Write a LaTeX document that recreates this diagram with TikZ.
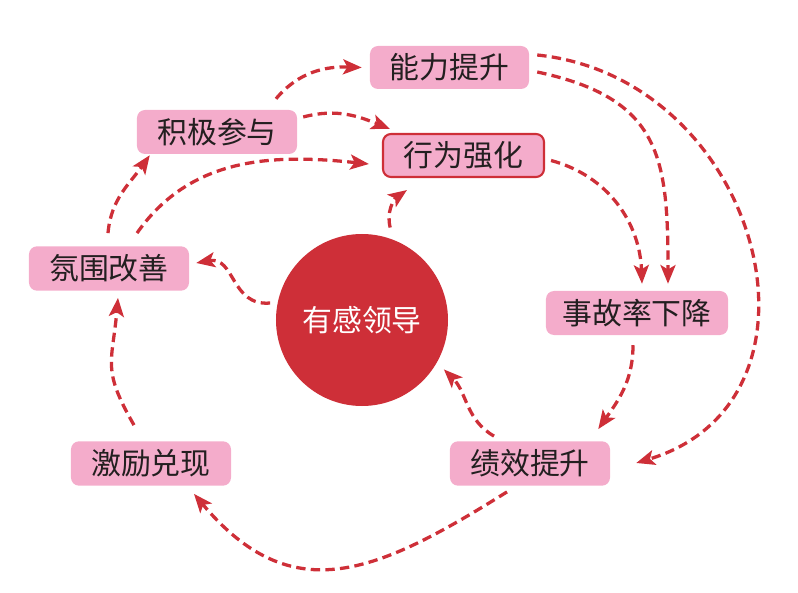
\documentclass[tikz,border=0pt]{standalone}
\usepackage{fontspec}
\setmainfont{Noto Sans CJK SC}
\usetikzlibrary{calc, arrows.meta}

\definecolor{linkred}{HTML}{CE2F38}
\definecolor{boxpink}{HTML}{F4ACCB}
\definecolor{inkgray}{HTML}{231F20}

\begin{document}
\begin{tikzpicture}[
        x=0.03cm, y=0.03cm,
        font=\fontsize{25.5}{30}\selectfont,
        box/.style={
            fill=boxpink,
            text=inkgray,
            rounded corners=0.24cm,
            minimum width=4.8cm,
            minimum height=1.33cm,
            inner sep=0pt
        },
        link/.style={
            draw=linkred,
            line width=2.8pt,
            dash pattern=on 8pt off 4.5pt,
            -{Stealth[length=0.56cm, width=0.45cm, inset=0.13cm]}
        }
    ]

    \useasboundingbox (0,0) rectangle (798,-593);

    \node[box, minimum width=4.77cm, minimum height=1.29cm] (ability) at (449.5,-67.5) {能力提升};
    \node[box, minimum height=1.32cm] (engage) at (217,-132) {积极参与};
    \node[box, draw=linkred, line width=1.8pt, minimum width=4.83cm, minimum height=1.29cm] (behave) at (463.5,-155.5) {行为强化};
    \node[box] (climate) at (109,-268.5) {氛围改善};
    \node[circle, fill=linkred, text=white, minimum size=5.16cm, inner sep=0pt] (lead) at (362,-320) {有感领导};
    \node[box, minimum width=5.46cm, minimum height=1.32cm] (accident) at (637,-313) {事故率下降};
    \node[box] (reward) at (151,-463.5) {激励兑现};
    \node[box] (perform) at (530,-463.5) {绩效提升};

    % upper left
    \draw[link] ($(engage.north)+(59,11)$) to[out=50, in=178] ($(ability.west)+(-8,0)$);
    \draw[link] ($(engage.east)+(6,15)$) to[out=15, in=158] ($(behave.north west)+(8,4)$);
    \draw[link] ($(climate.north)+(28,13)$) to[out=55, in=174] ($(behave.west)+(-13,-8.5)$);
    \draw[link] ($(climate.north)+(-1,13)$) to[out=85, in=235] ($(engage.south west)+(13,-1)$);

    % from the centre
    \draw[link] ($(lead.170)+(-7,2)$) to[out=185, in=10, looseness=1.2] ($(climate.east)+(7,5.5)$);
    \draw[link] ($(lead.73)+(3,10)$) to[out=105, in=215] ($(behave.south west)+(25,-12)$);

    % lower loop
    \draw[link] ($(reward.north)+(-17,16)$) to[out=120, in=265, looseness=1.3] ($(climate.south)+(9,-7)$);
    \draw[link] ($(perform.south)+(-23,-6)$) to[out=212, in=310, looseness=1.25] ($(reward.south)+(43,-8)$);
    \draw[link] ($(perform.north)+(-36,5)$) to[out=150, in=-45] ($(lead.-31)+(8,-5)$);
    \draw[link] ($(accident.south)+(-4,-10)$) to[out=-90, in=55] ($(perform.north east)+(-12,12)$);

    % right side
    \draw[link] ($(ability.east)+(8,-4.5)$) to[out=-12, in=90, looseness=1.3] ($(accident.north)+(31,7)$);
    \draw[link] ($(behave.east)+(6,-5)$) to[out=-15, in=92] ($(accident.north)+(5,7)$);
    \draw[link] ($(ability.east)+(8,12.5)$) .. controls +(223,-23) and +(209,63) .. ($(perform.east)+(26,0.5)$);

\end{tikzpicture}
\end{document}
